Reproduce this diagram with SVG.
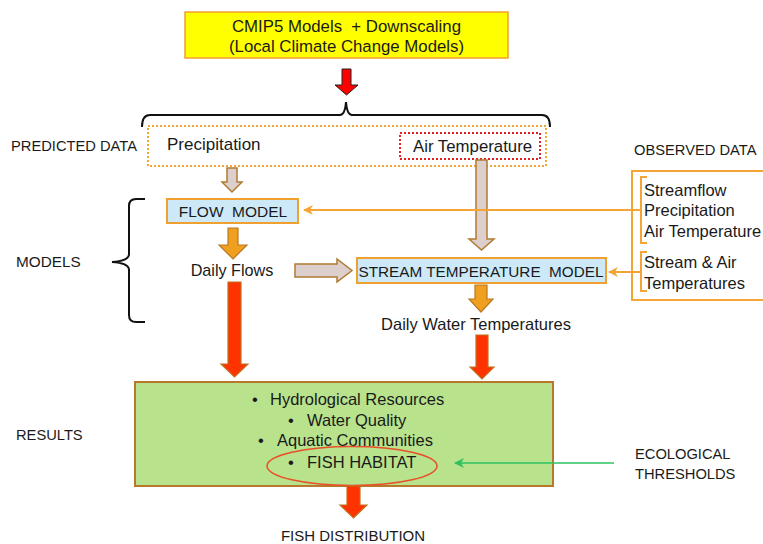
<svg xmlns="http://www.w3.org/2000/svg" width="763" height="544" viewBox="0 0 763 544">
<defs>
<style>
text{font-family:"Liberation Sans",Arial,sans-serif;fill:#1a1a1a;white-space:pre}
.lbl{font-size:14.7px}
.t15{font-size:16.5px}
.box{fill:#cde9f8;stroke:#f0a030;stroke-width:2}
.taupe{fill:#ddd0cc;stroke:#b07a30;stroke-width:1.5}
.orng{fill:#f0a020;stroke:#b87820;stroke-width:1.2}
.red{fill:#ff3300;stroke:#c07020;stroke-width:1.2}
.oline{fill:none;stroke:#f5a535;stroke-width:2}
.brace{fill:none;stroke:#111;stroke-width:2}
</style>
<marker id="oh" viewBox="0 0 10 10" refX="9" refY="5" markerWidth="10" markerHeight="10" markerUnits="userSpaceOnUse" orient="auto">
<path d="M0,0 L10,5 L0,10 L3,5 Z" fill="#f5a535"/>
</marker>
<marker id="gh" viewBox="0 0 10 10" refX="9" refY="5" markerWidth="10" markerHeight="10" markerUnits="userSpaceOnUse" orient="auto">
<path d="M0,0 L10,5 L0,10 L3,5 Z" fill="#2ec060"/>
</marker>
</defs>
<rect width="763" height="544" fill="#fff"/>

<g id="labels">
<text class="lbl" x="11" y="151">PREDICTED DATA</text>
<text class="lbl" x="16" y="267" style="font-size:15.3px">MODELS</text>
<text class="lbl" x="16" y="440">RESULTS</text>
<text class="lbl" x="634" y="155">OBSERVED DATA</text>
<text class="lbl" x="635" y="459">ECOLOGICAL</text>
<text class="lbl" x="635" y="479">THRESHOLDS</text>
</g>

<g id="cmip5">
<rect x="185" y="12" width="323" height="46" fill="#ffff00" stroke="#f0a030" stroke-width="1.5"/>
<text x="346.5" y="32" text-anchor="middle" font-size="16.8">CMIP5 Models  + Downscaling</text>
<text x="346.5" y="52" text-anchor="middle" font-size="16.8">(Local Climate Change Models)</text>
</g>

<g id="predicted">
<rect x="148" y="126" width="398" height="40" fill="none" stroke="#f5a535" stroke-width="2" stroke-dasharray="2,2"/>
<text x="167" y="150" font-size="17">Precipitation</text>
<rect x="400" y="133" width="140" height="26" fill="none" stroke="#e02020" stroke-width="2" stroke-dasharray="2,2"/>
<text x="413" y="152" font-size="16.8">Air Temperature</text>
</g>

<g id="flow-model">
<rect class="box" x="167" y="199" width="131" height="24"/>
<text x="233" y="217" text-anchor="middle" font-size="15.5">FLOW  MODEL</text>
</g>

<g id="daily-flows">
<text x="232" y="276" text-anchor="middle" font-size="16.2">Daily Flows</text>
</g>

<g id="stream-temp-model">
<rect class="box" x="357" y="258" width="249" height="25"/>
<text x="481" y="277" text-anchor="middle" font-size="15.3">STREAM TEMPERATURE  MODEL</text>
</g>

<g id="daily-water-temps">
<text class="t15" x="476" y="330" text-anchor="middle">Daily Water Temperatures</text>
</g>

<g id="observed">
<path class="oline" d="M763,171 H632 V300 H763"/>
<path class="oline" d="M647,177 H641 V243 H647"/>
<path class="oline" d="M647,252 H641 V291 H647"/>
<text class="t15" x="644" y="196">Streamflow</text>
<text class="t15" x="644" y="216">Precipitation</text>
<text class="t15" x="644" y="237">Air Temperature</text>
<text class="t15" x="644" y="268">Stream &amp; Air</text>
<text class="t15" x="644" y="289">Temperatures</text>
</g>

<g id="results">
<rect x="135" y="382" width="418" height="104" fill="#b8e28c" stroke="#b8782c" stroke-width="2"/>
<text class="t15" x="252" y="405">•</text>
<text class="t15" x="270" y="405">Hydrological Resources</text>
<text class="t15" x="288" y="426">•</text>
<text class="t15" x="307" y="426">Water Quality</text>
<text class="t15" x="258" y="446">•</text>
<text class="t15" x="277" y="446">Aquatic Communities</text>
<text class="t15" x="288" y="468">•</text>
<text class="t15" x="307" y="468">FISH HABITAT</text>
<ellipse cx="352" cy="466" rx="85" ry="19.5" fill="none" stroke="#e8502a" stroke-width="1.5"/>
</g>

<g id="fish-distribution">
<text x="353" y="541" text-anchor="middle" font-size="15">FISH DISTRIBUTION</text>
</g>

<g id="connectors">
<path class="brace" d="M142,127 Q142,115 150,115 H340 Q345,115 346,102 Q347,115 352,115 H542 Q550,115 550,127"/>
<path class="brace" d="M145,199 H136 Q129,199 129,206 V254 Q129,261 112,262 Q129,263 129,270 V315 Q129,322 136,322 H145"/>
<path d="M342,69 H351 V85 H358 L346.5,95 L335,85 H342 Z" fill="#ff0000" stroke="#222" stroke-width="1"/>
<path class="taupe" d="M227,168 H237 V182 H242 L232,192 L222,182 H227 Z"/>
<path class="taupe" d="M476,160 H487 V239 H494 L481.5,250 L469,239 H476 Z"/>
<path class="taupe" d="M295,264 H337 V259 L352,270.5 L337,282 V277 H295 Z"/>
<path class="orng" d="M228,228 H238 V245 H247 L233,259 L219,245 H228 Z"/>
<path class="orng" d="M475,285 H487 V299 H493 L481,312 L469,299 H475 Z"/>
<path class="red" d="M228,282 H241 V364 H248 L234.5,377 L221,364 H228 Z"/>
<path class="red" d="M476,335 H488 V367 H494 L482,379 L470,367 H476 Z"/>
<path class="red" d="M347,486 H360 V505 H367 L353.5,518 L340,505 H347 Z"/>
<line x1="640" y1="210" x2="304" y2="210" stroke="#f5a535" stroke-width="2" marker-end="url(#oh)"/>
<line x1="640" y1="272" x2="609" y2="272" stroke="#f5a535" stroke-width="2" marker-end="url(#oh)"/>
<line x1="614" y1="463" x2="455" y2="463" stroke="#2ec060" stroke-width="1.5" marker-end="url(#gh)"/>
</g>
</svg>
